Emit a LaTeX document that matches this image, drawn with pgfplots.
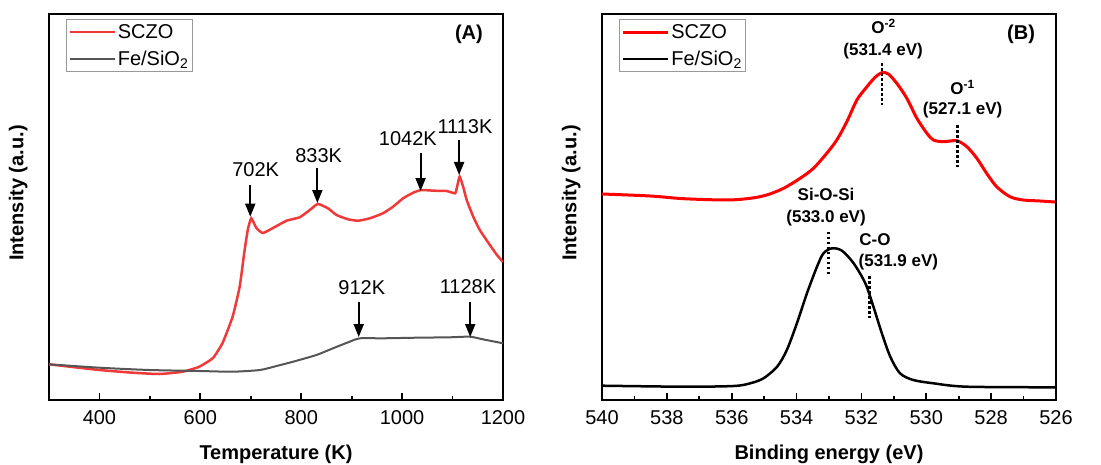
\documentclass[border=0pt]{standalone}
\usepackage{fontspec}
\setmainfont{Liberation Sans}
\usepackage{pgfplots}
\pgfplotsset{compat=1.18}
\usetikzlibrary{arrows.meta}

\definecolor{sczoA}{HTML}{F03A3A}
\definecolor{feA}{HTML}{555555}

\tikzset{
  arr/.style={-{Triangle[length=13pt,width=10pt]}, line width=2pt, black},
  dots/.style={line width=2.6pt, dash pattern=on 2.6pt off 2.4pt, black},
}

\pgfplotsset{
  panel/.style={
    scale only axis, width=454pt, height=386pt,
    axis line style={line width=2.8pt},
    ymin=0, ymax=386, ytick=\empty,
    xtick pos=bottom, tick align=inside,
    major tick length=7pt, minor tick length=4pt,
    every tick/.style={black, line width=1.8pt},
    minor x tick num=1,
    clip mode=individual,
    tick label style={font=\fontsize{20}{22}\selectfont},
    /pgf/number format/assume math mode=true,
    /pgf/number format/1000 sep={},
    xticklabel style={yshift=-7pt},
    label style={font=\fontsize{20}{24}\selectfont\bfseries},
    xlabel style={at={(axis description cs:0.5,-0.14)}, anchor=center},
    ylabel style={at={(axis description cs:-0.068,0.536)}, anchor=center},
    legend style={at={(0.037,0.987)}, anchor=north west, draw=gray!80,
      line width=1pt, font=\fontsize{20}{22}\selectfont,
      inner xsep=2pt, inner ysep=3pt, row sep=7pt, cells={anchor=west}},
    legend image code/.code={\draw[#1] (0pt,0pt) -- (45pt,0pt);},
  },
}

\begin{document}
\begin{tikzpicture}
\useasboundingbox (0,0) rectangle (1101pt,464pt);

% (A) TPR
\begin{axis}[panel, at={(49pt,64pt)}, anchor=south west,
  xmin=300, xmax=1200, xtick={400,600,800,1000,1200},
  xlabel={Temperature (K)}, ylabel={Intensity (a.u.)}]
\addplot[sczoA, line width=2.5pt, smooth, tension=0.3] coordinates {
(300,35.7) (400,30) (466,27.3) (519,26) (565,28.3) (598,33.3) (625,42)
(644,57) (664,83.3) (678,113.3) (687,147) (694,170) (701,181.7) (711,172)
(724,167) (744,172) (771,179.3) (797,182.7) (817,190) (833,196) (853,191.7)
(870,185) (893,180.7) (913,179.3) (936,181.7) (962,186.7) (982,193.3)
(1002,201.7) (1022,207.3) (1038,210) (1062,209.3) (1088,209) (1105,206.7)
(1109,213.3) (1114,223.3) (1121,213.3) (1128,200) (1141,183.3) (1154,170)
(1174,155) (1188,145) (1200,138)
};
\addlegendentry{SCZO}
\addplot[feA, line width=2pt, smooth, tension=0.4] coordinates {
(300,35.7) (400,32.3) (499,30) (598,29) (664,28.3) (718,30) (751,34)
(784,38.3) (830,45) (863,51.7) (896,58.3) (916,61.7) (962,61.7)
(1029,62.3) (1094,62.7) (1134,63.3) (1160,60.7) (1200,56.7)
};
\addlegendentry{Fe/SiO\textsubscript{2}}
\begin{scope}[font=\fontsize{20}{24}\selectfont]
\node at (axis cs:709.7,230) {702K};
\node at (axis cs:834.7,244) {833K};
\node at (axis cs:1011.4,261) {1042K};
\node at (axis cs:1124.6,273) {1113K};
\node at (axis cs:920,112) {912K};
\node at (axis cs:1130.5,113) {1128K};
\end{scope}
\draw[arr] (axis cs:699,215) -- (axis cs:699,183.3);
\draw[arr] (axis cs:832,232) -- (axis cs:832,197);
\draw[arr] (axis cs:1036.6,247) -- (axis cs:1036.6,209);
\draw[arr] (axis cs:1113,260) -- (axis cs:1113,225);
\draw[arr] (axis cs:914,98) -- (axis cs:914,63);
\draw[arr] (axis cs:1135,98) -- (axis cs:1135,63);
\node[font=\fontsize{20}{24}\selectfont\bfseries] at (rel axis cs:0.925,0.948) {(A)};
\end{axis}

% (B) XPS O 1s
\begin{axis}[panel, at={(602pt,64pt)}, anchor=south west,
  x dir=reverse, xmin=526, xmax=540, xtick={526,528,...,540},
  xlabel={Binding energy (eV)}, ylabel={Intensity (a.u.)}]
\addplot[red, line width=3pt, smooth, tension=0.5] coordinates {
(540,206) (538.51,204) (537.48,201.3) (536.15,200) (535.43,201.7)
(534.92,205) (534.4,211.7) (533.89,221.7) (533.48,231.7) (533.07,246.7)
(532.76,260) (532.45,278.3) (532.14,300) (531.83,313.3) (531.58,322.7)
(531.37,327.3) (531.17,326) (530.91,316.7) (530.6,301.7) (530.29,281.7)
(529.98,266.7) (529.78,260) (529.47,258.3) (529.06,259.3) (528.75,253.3)
(528.44,241.7) (528.14,226.7) (527.83,213.3) (527.42,203.3) (527.01,200)
(526.49,199) (526.03,198)
};
\addlegendentry{SCZO}
\addplot[black, line width=2.5pt, smooth, tension=0.5] coordinates {
(540,14.3) (537.48,13.3) (535.94,14) (535.43,16.7) (535.02,21.7)
(534.6,33.3) (534.3,50) (533.99,76.7) (533.68,106.7) (533.37,133.3)
(533.17,146.7) (532.91,151.7) (532.6,149.3) (532.24,136.7) (531.88,116.7)
(531.63,93.3) (531.37,66.7) (531.11,43.3) (530.81,26.7) (530.4,20)
(529.78,16.7) (528.75,13.3) (526.03,12.7)
};
\addlegendentry{Fe/SiO\textsubscript{2}}
\draw[dots] (axis cs:531.37,336.7) -- (axis cs:531.37,295);
\draw[dots] (axis cs:529.04,275) -- (axis cs:529.04,233.3);
\draw[dots] (axis cs:533.01,168.3) -- (axis cs:533.01,126);
\draw[dots] (axis cs:531.75,124) -- (axis cs:531.75,81.7);
\begin{scope}[font=\fontsize{17}{20}\selectfont\bfseries]
\node at (axis cs:531.32,373.3) {O\textsuperscript{-2}};
\node at (axis cs:531.33,349.3) {(531.4 eV)};
\node at (axis cs:528.88,312.7) {O\textsuperscript{-1}};
\node at (axis cs:528.88,290) {(527.1 eV)};
\node at (axis cs:533.09,206) {Si-O-Si};
\node at (axis cs:533.09,181.7) {(533.0 eV)};
\node at (axis cs:531.58,160.7) {C-O};
\node at (axis cs:530.86,138.3) {(531.9 eV)};
\end{scope}
\node[font=\fontsize{20}{24}\selectfont\bfseries] at (rel axis cs:0.923,0.947) {(B)};
\end{axis}
\end{tikzpicture}
\end{document}
